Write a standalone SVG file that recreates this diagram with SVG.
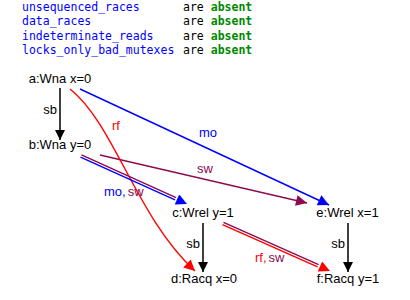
<svg xmlns="http://www.w3.org/2000/svg" width="410" height="300" viewBox="0 0 410 300">
  <style>
    .hdr { font-family: "DejaVu Sans Mono", monospace; font-size: 11.5px; }
    .name { fill: #0000ff; }
    .are { fill: #000000; }
    .abs { fill: #008800; font-weight: bold; }
    .node text { font-family: "Liberation Sans", Arial, sans-serif; font-size: 13px; fill: #000; text-anchor: middle; }
    .lbl { font-family: "Liberation Sans", Arial, sans-serif; font-size: 13px; }
    .e { fill: none; stroke-width: 1.4; }
    .sb { stroke: #000; stroke-width: 1.5; }
    .mo { stroke: #0000ff; }
    .rf { stroke: #ff0000; }
    .sw { stroke: #8b0a50; }
  </style>
  <defs>
    <marker id="ah-black" viewBox="0 0 10 10" refX="10" refY="5" markerUnits="userSpaceOnUse" markerWidth="14" markerHeight="10" orient="auto">
      <path d="M0,0 L10,5 L0,10 z" fill="#000"/>
    </marker>
    <marker id="ah-blue" viewBox="0 0 10 10" refX="10" refY="5" markerUnits="userSpaceOnUse" markerWidth="15" markerHeight="11" orient="auto">
      <path d="M0,0 L10,5 L0,10 z" fill="#0000ff"/>
    </marker>
    <marker id="ah-red" viewBox="0 0 10 10" refX="10" refY="5" markerUnits="userSpaceOnUse" markerWidth="15" markerHeight="11" orient="auto">
      <path d="M0,0 L10,5 L0,10 z" fill="#ff0000"/>
    </marker>
    <marker id="ah-sw" viewBox="0 0 10 10" refX="10" refY="5" markerUnits="userSpaceOnUse" markerWidth="15" markerHeight="11" orient="auto">
      <path d="M0,0 L10,5 L0,10 z" fill="#8b0a50"/>
    </marker>
  </defs>

  <!-- race summary -->
  <g id="summary" class="hdr">
    <text x="22" y="10.5" class="name">unsequenced_races</text>
    <text x="22" y="25" class="name">data_races</text>
    <text x="22" y="39.5" class="name">indeterminate_reads</text>
    <text x="22" y="54" class="name">locks_only_bad_mutexes</text>
    <text x="183" y="10.5" class="are">are <tspan class="abs">absent</tspan></text>
    <text x="183" y="25" class="are">are <tspan class="abs">absent</tspan></text>
    <text x="183" y="39.5" class="are">are <tspan class="abs">absent</tspan></text>
    <text x="183" y="54" class="are">are <tspan class="abs">absent</tspan></text>
  </g>

  <!-- connectors -->
  <g id="edges">
    <!-- sb -->
    <line class="e sb" x1="60" y1="88" x2="60" y2="140" marker-end="url(#ah-black)"/>
    <text class="lbl" x="57" y="114" text-anchor="end">sb</text>
    <line class="e sb" x1="203" y1="223" x2="203" y2="272" marker-end="url(#ah-black)"/>
    <text class="lbl" x="200" y="248" text-anchor="end">sb</text>
    <line class="e sb" x1="348" y1="223" x2="348" y2="272" marker-end="url(#ah-black)"/>
    <text class="lbl" x="345" y="248" text-anchor="end">sb</text>

    <!-- mo a -> e -->
    <line class="e mo" x1="80" y1="89" x2="329" y2="205" marker-end="url(#ah-blue)"/>
    <text class="lbl" x="199" y="137" fill="#0000ff">mo</text>

    <!-- sw b -> e -->
    <line class="e sw" x1="100" y1="155" x2="307" y2="203" marker-end="url(#ah-sw)"/>
    <text class="lbl" x="197" y="173" fill="#8b0a50">sw</text>

    <!-- rf a -> d -->
    <path class="e rf" d="M70,89 C115,125 135,215 195,271" marker-end="url(#ah-red)"/>
    <text class="lbl" x="112" y="130" fill="#ff0000">rf</text>

    <!-- mo,sw b -> c (double line) -->
    <line class="e sw" x1="81.5" y1="154.9" x2="176" y2="197.6"/>
    <line class="e mo" x1="80.5" y1="157.1" x2="175" y2="199.8"/>
    <line x1="81" y1="156" x2="187" y2="204" stroke="none" marker-end="url(#ah-blue)"/>
    <text class="lbl" x="104" y="196"><tspan fill="#0000ff">mo,</tspan><tspan dx="2" fill="#8b0a50">sw</tspan></text>

    <!-- rf,sw c -> f (double line) -->
    <line class="e sw" x1="223.5" y1="222.4" x2="318.6" y2="264.6"/>
    <line class="e rf" x1="222.5" y1="224.6" x2="317.6" y2="266.8"/>
    <line x1="223" y1="223.5" x2="330" y2="271" stroke="none" marker-end="url(#ah-red)"/>
    <text class="lbl" x="255" y="262"><tspan fill="#ff0000">rf,</tspan><tspan dx="2" fill="#8b0a50">sw</tspan></text>
  </g>

  <!-- events -->
  <g id="a" class="node"><text x="60" y="83">a:Wna x=0</text></g>
  <g id="b" class="node"><text x="60" y="149">b:Wna y=0</text></g>
  <g id="c" class="node"><text x="203" y="217">c:Wrel y=1</text></g>
  <g id="d" class="node"><text x="204" y="283">d:Racq x=0</text></g>
  <g id="e" class="node"><text x="347.5" y="217">e:Wrel x=1</text></g>
  <g id="f" class="node"><text x="348" y="283">f:Racq y=1</text></g>
</svg>
